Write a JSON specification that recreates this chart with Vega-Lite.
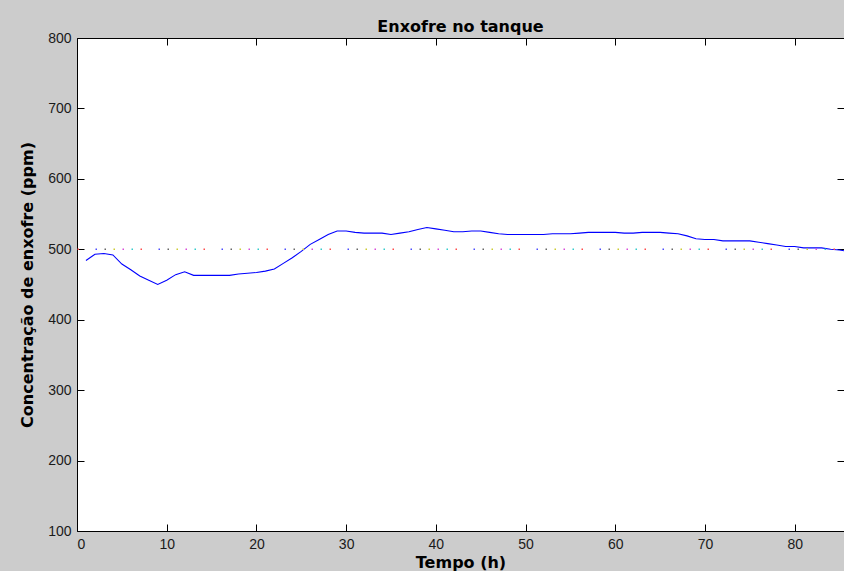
{
  "$schema": "https://vega.github.io/schema/vega-lite/v6.json",
  "autosize": {"type": "none"},
  "padding": {"left": 77, "top": 38, "right": 0, "bottom": 40},
  "width": 767,
  "height": 493,
  "background": "#cccccc",
  "config": {
    "view": {"stroke": null, "fill": "white"},
    "axis": {
      "labelFont": "Liberation Sans",
      "labelFontSize": 14,
      "labelColor": "#1a1a1a",
      "titleFont": "DejaVu Sans",
      "titleFontSize": 16,
      "titleFontWeight": "bold",
      "titleColor": "#000000",
      "domainColor": "#000000",
      "tickColor": "#000000",
      "grid": false,
      "tickSize": -7
    }
  },
  "title": {
    "text": "Enxofre no tanque",
    "font": "DejaVu Sans",
    "fontSize": 16,
    "fontWeight": "bold",
    "color": "#000000",
    "offset": -4
  },
  "datasets": {
    "conc": [
      {"t": 1, "ppm": 484}, {"t": 2, "ppm": 493}, {"t": 3, "ppm": 494}, {"t": 4, "ppm": 492},
      {"t": 5, "ppm": 479}, {"t": 6, "ppm": 471}, {"t": 7, "ppm": 462}, {"t": 8, "ppm": 456},
      {"t": 9, "ppm": 450}, {"t": 10, "ppm": 456}, {"t": 11, "ppm": 464}, {"t": 12, "ppm": 468},
      {"t": 13, "ppm": 463}, {"t": 14, "ppm": 463}, {"t": 15, "ppm": 463}, {"t": 16, "ppm": 463},
      {"t": 17, "ppm": 463}, {"t": 18, "ppm": 465}, {"t": 19, "ppm": 466}, {"t": 20, "ppm": 467},
      {"t": 21, "ppm": 469}, {"t": 22, "ppm": 472}, {"t": 23, "ppm": 480}, {"t": 24, "ppm": 488},
      {"t": 25, "ppm": 497}, {"t": 26, "ppm": 507}, {"t": 27, "ppm": 514}, {"t": 28, "ppm": 521},
      {"t": 29, "ppm": 526}, {"t": 30, "ppm": 526}, {"t": 31, "ppm": 524}, {"t": 32, "ppm": 523},
      {"t": 33, "ppm": 523}, {"t": 34, "ppm": 523}, {"t": 35, "ppm": 521}, {"t": 36, "ppm": 523},
      {"t": 37, "ppm": 525}, {"t": 38, "ppm": 528}, {"t": 39, "ppm": 531}, {"t": 40, "ppm": 529},
      {"t": 41, "ppm": 527}, {"t": 42, "ppm": 525}, {"t": 43, "ppm": 525}, {"t": 44, "ppm": 526},
      {"t": 45, "ppm": 526}, {"t": 46, "ppm": 524}, {"t": 47, "ppm": 522}, {"t": 48, "ppm": 521},
      {"t": 49, "ppm": 521}, {"t": 50, "ppm": 521}, {"t": 51, "ppm": 521}, {"t": 52, "ppm": 521},
      {"t": 53, "ppm": 522}, {"t": 54, "ppm": 522}, {"t": 55, "ppm": 522}, {"t": 56, "ppm": 523},
      {"t": 57, "ppm": 524}, {"t": 58, "ppm": 524}, {"t": 59, "ppm": 524}, {"t": 60, "ppm": 524},
      {"t": 61, "ppm": 523}, {"t": 62, "ppm": 523}, {"t": 63, "ppm": 524}, {"t": 64, "ppm": 524},
      {"t": 65, "ppm": 524}, {"t": 66, "ppm": 523}, {"t": 67, "ppm": 522}, {"t": 68, "ppm": 519},
      {"t": 69, "ppm": 515}, {"t": 70, "ppm": 514}, {"t": 71, "ppm": 514}, {"t": 72, "ppm": 512},
      {"t": 73, "ppm": 512}, {"t": 74, "ppm": 512}, {"t": 75, "ppm": 512}, {"t": 76, "ppm": 510},
      {"t": 77, "ppm": 508}, {"t": 78, "ppm": 506}, {"t": 79, "ppm": 504}, {"t": 80, "ppm": 504},
      {"t": 81, "ppm": 502}, {"t": 82, "ppm": 502}, {"t": 83, "ppm": 502}, {"t": 84, "ppm": 500},
      {"t": 85, "ppm": 499}, {"t": 86, "ppm": 497}
    ],
    "ref": [
      {"ppm": 500, "c": "g"},
      {"ppm": 500, "c": "r"},
      {"ppm": 500, "c": "c"},
      {"ppm": 500, "c": "m"},
      {"ppm": 500, "c": "y"},
      {"ppm": 500, "c": "k"},
      {"ppm": 500, "c": "b"}
    ]
  },
  "resolve": {"axis": {"x": "independent", "y": "independent"}},
  "layer": [
    {
      "data": {"name": "conc"},
      "mark": {"type": "line", "color": "#0000ff", "strokeWidth": 1.1, "clip": true},
      "encoding": {
        "x": {
          "field": "t", "type": "quantitative",
          "scale": {"domain": [0, 85.5], "nice": false, "zero": false},
          "axis": {"title": "Tempo (h)", "values": [0, 10, 20, 30, 40, 50, 60, 70, 80], "labelPadding": 13, "titlePadding": 3}
        },
        "y": {
          "field": "ppm", "type": "quantitative",
          "scale": {"domain": [100, 800], "nice": false, "zero": false},
          "axis": {"title": "Concentração de enxofre (ppm)", "values": [100, 200, 300, 400, 500, 600, 700, 800], "labelPadding": 13, "titlePadding": 12}
        }
      }
    },
    {
      "data": {"name": "ref"},
      "transform": [{"filter": "datum.c == 'g'"}],
      "mark": {"type": "rule", "color": "#33a033", "strokeWidth": 1.5, "strokeDash": [1.5, 61.5], "strokeDashOffset": 0},
      "encoding": {
        "y": {"field": "ppm", "type": "quantitative", "axis": {"orient": "right", "title": null, "labels": false, "values": [100, 200, 300, 400, 500, 600, 700, 800]}},
        "x": {"field": "t", "type": "quantitative", "axis": {"orient": "top", "title": null, "labels": false, "values": [0, 10, 20, 30, 40, 50, 60, 70, 80]}}
      }
    },
    {
      "data": {"name": "ref"},
      "transform": [{"filter": "datum.c == 'r'"}],
      "mark": {"type": "rule", "color": "#ff4d4d", "strokeWidth": 1.5, "strokeDash": [1.5, 61.5], "strokeDashOffset": -9},
      "encoding": {"y": {"field": "ppm", "type": "quantitative", "axis": null}}
    },
    {
      "data": {"name": "ref"},
      "transform": [{"filter": "datum.c == 'c'"}],
      "mark": {"type": "rule", "color": "#33cccc", "strokeWidth": 1.5, "strokeDash": [1.5, 61.5], "strokeDashOffset": -18},
      "encoding": {"y": {"field": "ppm", "type": "quantitative", "axis": null}}
    },
    {
      "data": {"name": "ref"},
      "transform": [{"filter": "datum.c == 'm'"}],
      "mark": {"type": "rule", "color": "#d94dd9", "strokeWidth": 1.5, "strokeDash": [1.5, 61.5], "strokeDashOffset": -27},
      "encoding": {"y": {"field": "ppm", "type": "quantitative", "axis": null}}
    },
    {
      "data": {"name": "ref"},
      "transform": [{"filter": "datum.c == 'y'"}],
      "mark": {"type": "rule", "color": "#cccc33", "strokeWidth": 1.5, "strokeDash": [1.5, 61.5], "strokeDashOffset": -36},
      "encoding": {"y": {"field": "ppm", "type": "quantitative", "axis": null}}
    },
    {
      "data": {"name": "ref"},
      "transform": [{"filter": "datum.c == 'k'"}],
      "mark": {"type": "rule", "color": "#666666", "strokeWidth": 1.5, "strokeDash": [1.5, 61.5], "strokeDashOffset": -45},
      "encoding": {"y": {"field": "ppm", "type": "quantitative", "axis": null}}
    },
    {
      "data": {"name": "ref"},
      "transform": [{"filter": "datum.c == 'b'"}],
      "mark": {"type": "rule", "color": "#4d4dff", "strokeWidth": 1.5, "strokeDash": [1.5, 61.5], "strokeDashOffset": -54},
      "encoding": {"y": {"field": "ppm", "type": "quantitative", "axis": null}}
    }
  ]
}
